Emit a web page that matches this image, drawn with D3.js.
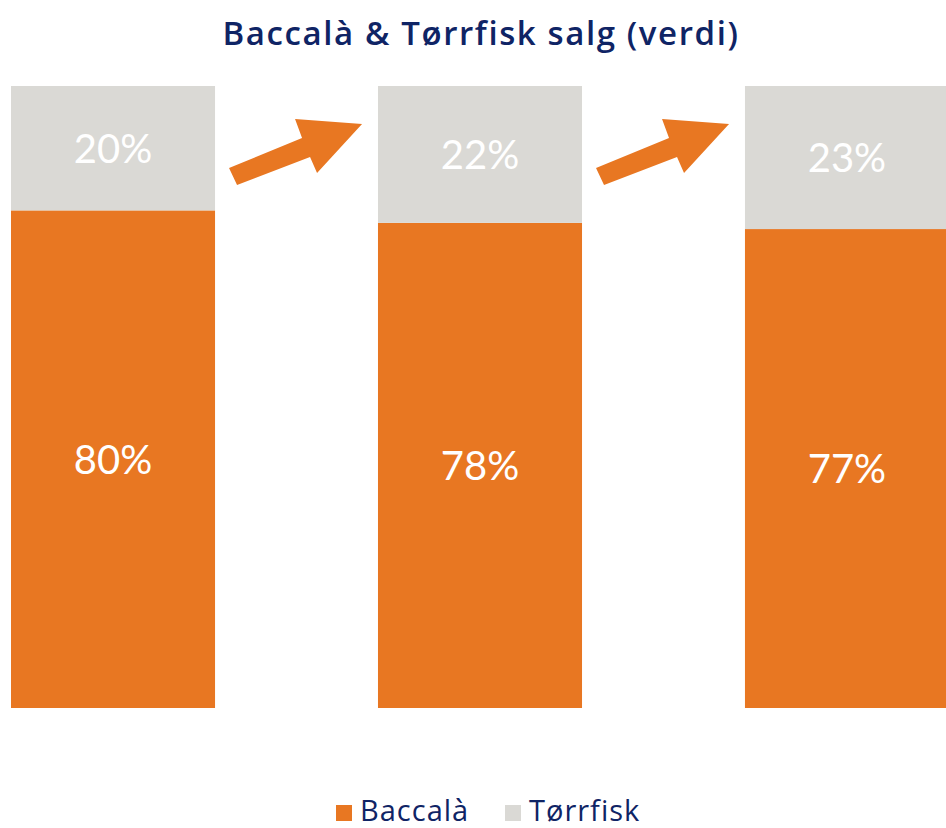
<!DOCTYPE html>
<html>
<head>
<meta charset="utf-8">
<script src="https://cdn.jsdelivr.net/npm/d3@7"></script>
<style>
  body { margin: 0; background: #fff; }
  text { font-family: Lato, "Open Sans", sans-serif; }
</style>
</head>
<body>
<div id="chart"></div>
<script>
// data
const periods = ["P1", "P2", "P3"];
const baccala = [80, 78, 77];
const torrfisk = [20, 22, 23];
const seriesNames = ["Baccalà", "Tørrfisk"];

const width = 946, height = 828;
const ORANGE = "#E87722", GREY = "#DAD9D5", NAVY = "#0F2465";

const svg = d3.select("#chart")
    .append("svg")
    .attr("width", width)
    .attr("height", height);

let x = d3.scaleBand()
    .domain(periods)
    .range([11, 949])
    .paddingInner(0.444)
    .paddingOuter(0);

let y = d3.scaleLinear()
    .domain([0, 100])
    .range([708, 86]);

let data = periods.map((p, i) => ({ period: p, b: baccala[i], t: torrfisk[i] }));

// title
svg.append("text")
    .attr("x", 481)
    .attr("y", 45)
    .style("text-anchor", "middle")
    .style("font-family", "'Open Sans', sans-serif")
    .style("font-size", "33px")
    .style("font-weight", 600)
    .style("letter-spacing", "1.6px")
    .style("fill", NAVY)
    .text("Baccalà & Tørrfisk salg (verdi)");

// baccalà (bottom)
svg.selectAll("rect.b").data(data).enter()
    .append("rect")
    .attr("class", "b")
    .attr("x", d => x(d.period))
    .attr("y", d => y(d.b))
    .attr("width", x.bandwidth())
    .attr("height", d => y(0) - y(d.b))
    .attr("fill", ORANGE);

// tørrfisk (top)
svg.selectAll("rect.t").data(data).enter()
    .append("rect")
    .attr("class", "t")
    .attr("x", d => x(d.period))
    .attr("y", d => y(d.b + d.t))
    .attr("width", x.bandwidth())
    .attr("height", d => y(d.b) - y(d.b + d.t))
    .attr("fill", GREY);

// labels
function label(cls, lo, hi) {
    svg.selectAll("text." + cls).data(data).enter()
        .append("text")
        .attr("class", cls)
        .attr("x", d => x(d.period) + 102)
        .attr("y", d => (y(lo(d)) + y(hi(d))) / 2)
        .attr("dy", "0.36em")
        .style("text-anchor", "middle")
        .style("font-size", "40px")
        .style("font-weight", 400)
        .style("fill", "#fff")
        .text(d => (hi(d) - lo(d)) + "%");
}
label("lb", d => 0, d => d.b);
label("lt", d => d.b, d => d.b + d.t);

// arrows between bars
const arrowShape = [[14, -40], [87, -70], [80, -89], [147, -84], [102, -35], [95, -51], [22, -23]];
const arrowY = 208;
for (let i = 0; i < periods.length - 1; i++) {
    let x0 = x(periods[i]) + x.bandwidth();
    svg.append("polygon")
        .attr("points", arrowShape.map(p => [x0 + p[0], arrowY + p[1]].join(",")).join(" "))
        .attr("fill", ORANGE);
}

// legend
const legendX = [336, 505];
const legendColors = [ORANGE, GREY];
seriesNames.forEach((name, i) => {
    svg.append("rect")
        .attr("x", legendX[i])
        .attr("y", 805)
        .attr("width", 16)
        .attr("height", 16)
        .attr("fill", legendColors[i]);
    svg.append("text")
        .attr("x", legendX[i] + 24)
        .attr("y", 821)
        .style("font-family", "'Open Sans', sans-serif")
        .style("font-size", "29px")
        .style("letter-spacing", "1px")
        .style("fill", NAVY)
        .text(name);
});
</script>
</body>
</html>
